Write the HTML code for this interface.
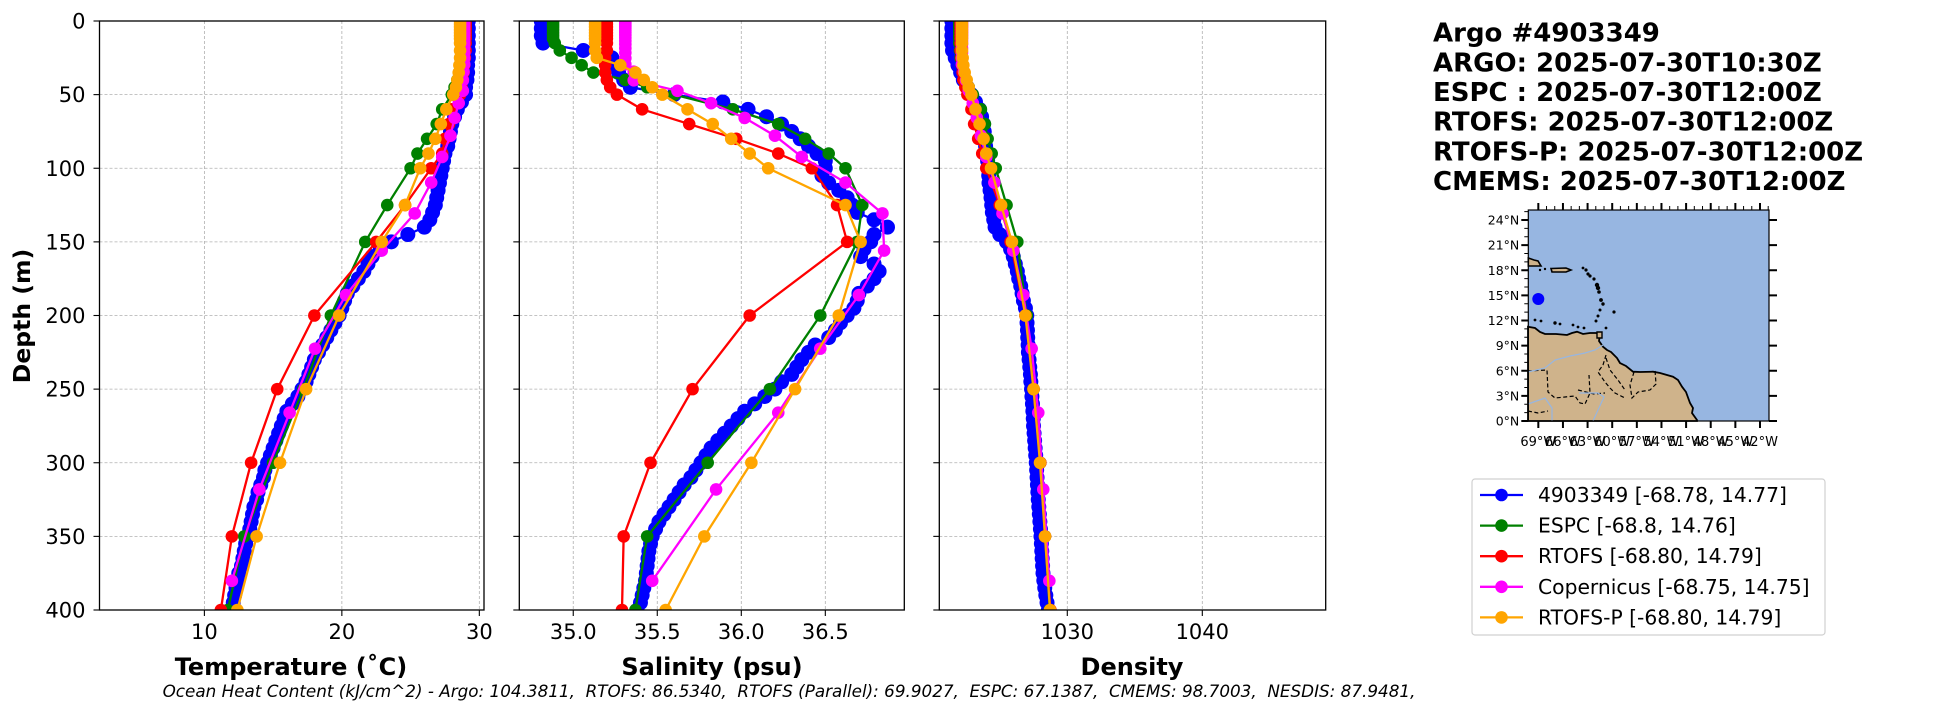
<!DOCTYPE html>
<html><head><meta charset="utf-8"><style>
body{margin:0;background:#fff;}
svg{display:block;font-family:"DejaVu Sans","Liberation Sans",sans-serif;}
</style></head><body>
<svg id="fig" xmlns="http://www.w3.org/2000/svg" width="1949" height="712" viewBox="0 0 1949 712">
<rect width="1949" height="712" fill="#fff"/>
<defs>
<clipPath id="c0"><rect x="99.5" y="21" width="384.5" height="589"/></clipPath>
<clipPath id="c1"><rect x="519.3" y="21" width="385" height="589"/></clipPath>
<clipPath id="c2"><rect x="939.3" y="21" width="386.4" height="589"/></clipPath>
</defs>
<g id="panels"></g>
<text transform="translate(30,316) rotate(-90)" text-anchor="middle" font-size="23.5" font-weight="bold">Depth (m)</text>
<text x="291" y="675" text-anchor="middle" font-size="24" font-weight="bold">Temperature (˚C)</text>
<text x="712" y="675" text-anchor="middle" font-size="24" font-weight="bold">Salinity (psu)</text>
<text x="1132" y="675" text-anchor="middle" font-size="24" font-weight="bold">Density</text>
<text x="789" y="697" text-anchor="middle" font-size="16.8" font-style="italic" xml:space="preserve" style="white-space:pre">Ocean Heat Content (kJ/cm^2) - Argo: 104.3811,  RTOFS: 86.5340,  RTOFS (Parallel): 69.9027,  ESPC: 67.1387,  CMEMS: 98.7003,  NESDIS: 87.9481,</text>
<g font-size="26" font-weight="bold">
<text x="1433" y="41.7">Argo #4903349</text>
<text x="1433" y="71.4">ARGO: 2025-07-30T10:30Z</text>
<text x="1433" y="101">ESPC : 2025-07-30T12:00Z</text>
<text x="1433" y="130.7">RTOFS: 2025-07-30T12:00Z</text>
<text x="1433" y="160.3">RTOFS-P: 2025-07-30T12:00Z</text>
<text x="1433" y="190">CMEMS: 2025-07-30T12:00Z</text>
</g>
<g id="map">
<rect x="1528.3" y="210" width="240.7" height="211" fill="#97b6e1"/>
<polygon fill="#cfb38b" stroke="#000" stroke-width="1.8" points="1528,326.7 1535,328 1540,332 1545,334 1556,334 1567,335 1572,333 1577,331.7 1583,334 1590,333 1596,333 1600,334 1599,341 1603,346.7 1607,350 1611,352 1617,358 1620,363 1626,366 1633,371.7 1640,372 1653,371.7 1660,373 1673,376.7 1678,380 1682,386.7 1686,392 1690,403 1693,408 1692,413 1697,420 1697,421 1528,421"/>
<polygon fill="#cfb38b" stroke="#000" stroke-width="1.4" points="1597,332 1602,332 1602,338 1597,338"/>
<polygon fill="#cfb38b" stroke="#000" stroke-width="1.6" points="1528.3,258 1534,260 1538,261 1541,266 1528.3,266"/>
<polygon fill="#cfb38b" stroke="#000" stroke-width="1.6" points="1551,268.5 1566,268 1571,270 1566,272 1552,272"/>
<g fill="#000">
<circle cx="1583" cy="268" r="1.4"/><circle cx="1586" cy="270" r="1.6"/><circle cx="1588" cy="274" r="1.6"/><circle cx="1590" cy="276" r="1.6"/><circle cx="1594" cy="279" r="1.6"/><circle cx="1597" cy="285" r="2.2"/><circle cx="1598" cy="288" r="2.2"/><circle cx="1599" cy="292" r="1.8"/><circle cx="1601" cy="300" r="1.9"/><circle cx="1603" cy="304" r="1.7"/><circle cx="1600" cy="310" r="1.5"/><circle cx="1598" cy="316" r="1.5"/><circle cx="1596" cy="321" r="1.5"/><circle cx="1614" cy="312" r="1.6"/><circle cx="1535" cy="320" r="1.4"/><circle cx="1541" cy="321" r="1.4"/><circle cx="1555" cy="323" r="1.7"/><circle cx="1560" cy="324" r="1.4"/><circle cx="1573" cy="325" r="1.4"/><circle cx="1578" cy="327" r="1.4"/><circle cx="1584" cy="328" r="1.4"/><circle cx="1606" cy="328" r="1.4"/><circle cx="1540" cy="270" r="1.2"/><circle cx="1545" cy="269" r="1.2"/>
</g>
<g fill="none" stroke="#000" stroke-width="1.2" stroke-dasharray="4,2.5">
<path d="M1528,371 L1547,370 L1548,392 L1555,398 L1565,397 L1575,396 L1580,403 L1585,404 L1590,393 L1589,375"/>
<path d="M1606,355 L1603,365 L1598,372 L1605,382 L1610,388 L1615,393 L1625,398"/>
<path d="M1634,372 L1630,385 L1632,398 L1638,392 L1650,390 L1656,384 L1655,370"/>
<path d="M1606,358 L1610,370 L1618,380 L1625,390"/>
<path d="M1528,411 L1538,413 L1548,411"/>
<path d="M1578,390 L1594,394 L1605,393"/>
</g>
<g fill="none" stroke="#97b6e1" stroke-width="1.2">
<path d="M1528,372 L1545,368 L1555,360 L1570,356 L1585,353 L1595,350 L1603,345"/>
<path d="M1528,404 L1545,398 L1552,408 L1552,421"/>
<path d="M1579,393 L1590,393 L1598,393 L1604,397 L1598,410 L1593,421"/>
</g>
<rect x="1528.3" y="210" width="240.7" height="211" fill="none" stroke="#000" stroke-width="1.2"/>
<circle cx="1538.3" cy="299" r="6" fill="#0000ff"/>
<g id="mapticks"></g>
</g>
<g id="legend"></g>
</svg>
<script>
// ---- data ----
const depthTicks = [0,50,100,150,200,250,300,350,400];
const tempTicks = [10,20,30];
const salTicks = [35.0,35.5,36.0,36.5];
const densTicks = [1030,1040];
const salTickLabels = ["35.0","35.5","36.0","36.5"];

const argoDepth = [0,5,10,15,20,25,30,35,40,45,50,55,60,65,70,75,80,85,90,95,100,105,110,115,120,125,130,135,140,145,150,155,160,165,170,175,180,185,190,195,200,205,210,215,220,225,230,235,240,245,250,255,260,265,270,275,280,285,290,295,300,305,310,315,320,325,330,335,340,345,350,355,360,365,370,375,380,385,390,395,400];
const argoTemp = [29.2,29.2,29.2,29.2,29.2,29.2,29.15,29.15,29.1,29.0,29.0,28.7,28.4,28.2,28.0,27.9,27.8,27.7,27.5,27.4,27.3,27.2,27.1,27.0,26.9,26.8,26.6,26.4,26.0,24.8,23.6,22.8,22.2,21.9,21.6,21.2,20.8,20.4,20.2,20.0,19.8,19.5,19.2,18.9,18.6,18.3,18.0,17.8,17.6,17.4,17.1,16.8,16.4,16.0,15.8,15.6,15.4,15.2,15.0,14.8,14.6,14.4,14.3,14.1,13.9,13.8,13.6,13.5,13.4,13.3,13.2,13.0,12.9,12.8,12.7,12.5,12.4,12.3,12.2,12.1,12.0];
const argoSal = [34.81,34.81,34.81,34.82,35.06,35.23,35.25,35.27,35.30,35.34,35.60,35.89,36.04,36.15,36.24,36.30,36.35,36.40,36.45,36.50,36.50,36.48,36.52,36.58,36.63,36.66,36.69,36.79,36.87,36.79,36.77,36.73,36.71,36.79,36.82,36.79,36.75,36.70,36.69,36.67,36.63,36.59,36.56,36.52,36.44,36.40,36.36,36.33,36.30,36.24,36.20,36.14,36.08,36.02,35.98,35.94,35.90,35.86,35.82,35.79,35.76,35.73,35.70,35.66,35.63,35.60,35.57,35.54,35.51,35.49,35.47,35.46,35.45,35.445,35.44,35.435,35.43,35.42,35.41,35.40,35.38];
const argoDens = [1021.45,1021.45,1021.45,1021.45,1021.5,1021.7,1021.9,1022.1,1022.3,1022.6,1022.9,1023.2,1023.5,1023.65,1023.8,1023.85,1023.9,1023.95,1024.0,1024.1,1024.15,1024.18,1024.2,1024.28,1024.35,1024.4,1024.45,1024.55,1024.65,1025.0,1025.5,1025.8,1026.0,1026.15,1026.3,1026.4,1026.55,1026.65,1026.75,1026.9,1027.0,1027.02,1027.05,1027.07,1027.1,1027.12,1027.17,1027.22,1027.27,1027.3,1027.35,1027.38,1027.42,1027.45,1027.48,1027.5,1027.54,1027.58,1027.62,1027.66,1027.7,1027.73,1027.76,1027.79,1027.82,1027.85,1027.89,1027.93,1027.97,1028.01,1028.05,1028.08,1028.11,1028.14,1028.17,1028.2,1028.26,1028.33,1028.41,1028.5,1028.6];

const modelDepth = [0,2,4,6,8,10,12,15,20,25,30,35,40,45,50,60,70,80,90,100,125,150,200,250,300,350,400];
const espcTemp = [29.0,29.0,29.0,29.0,29.0,29.0,29.0,29.0,28.9,28.8,28.7,28.6,28.4,28.2,28.0,27.3,26.9,26.2,25.5,25.0,23.3,21.7,19.2,17.2,15.0,12.9,11.7];
const espcSal = [34.88,34.88,34.88,34.88,34.88,34.88,34.88,34.89,34.92,34.99,35.05,35.12,35.31,35.44,35.60,35.95,36.22,36.38,36.52,36.62,36.72,36.69,36.47,36.17,35.80,35.44,35.37];
const espcDens = [1022.0,1022.0,1022.0,1022.0,1022.0,1022.0,1022.0,1022.0,1022.05,1022.1,1022.2,1022.3,1022.5,1022.7,1023.0,1023.6,1023.9,1024.1,1024.4,1024.7,1025.5,1026.3,1027.0,1027.5,1028.0,1028.35,1028.7];
const rtofsTemp = [29.0,29.0,29.0,29.0,29.0,29.0,29.0,29.0,29.0,28.95,28.9,28.85,28.8,28.7,28.6,28.0,27.8,27.5,27.3,26.5,24.6,22.5,18.0,15.3,13.4,12.0,11.2];
const rtofsSal = [35.20,35.20,35.20,35.20,35.20,35.20,35.20,35.20,35.20,35.19,35.19,35.19,35.20,35.22,35.26,35.41,35.69,35.97,36.22,36.42,36.57,36.63,36.05,35.71,35.46,35.30,35.29];
const rtofsDens = [1022.1,1022.1,1022.1,1022.1,1022.1,1022.1,1022.1,1022.1,1022.1,1022.15,1022.2,1022.25,1022.3,1022.45,1022.6,1022.9,1023.1,1023.4,1023.7,1024.0,1025.0,1025.8,1026.9,1027.5,1028.0,1028.35,1028.75];
const rtofspTemp = [28.6,28.6,28.6,28.6,28.6,28.6,28.6,28.6,28.6,28.6,28.55,28.5,28.4,28.3,28.1,27.6,27.2,26.8,26.3,25.7,24.6,22.9,19.8,17.4,15.5,13.8,12.4];
const rtofspSal = [35.13,35.13,35.13,35.13,35.13,35.13,35.13,35.13,35.13,35.14,35.28,35.37,35.42,35.47,35.53,35.68,35.83,35.94,36.05,36.16,36.62,36.71,36.58,36.32,36.06,35.78,35.55];
const rtofspDens = [1022.2,1022.2,1022.2,1022.2,1022.2,1022.2,1022.2,1022.2,1022.2,1022.25,1022.3,1022.4,1022.55,1022.7,1022.9,1023.2,1023.5,1023.8,1024.0,1024.35,1025.1,1025.9,1026.9,1027.5,1027.98,1028.35,1028.72];

const copDepth = [0.5,1.5,2.6,3.8,5,6.4,7.9,9.6,11.4,13.5,15.8,18.5,21.6,25.2,29.4,34.4,40.3,47.4,55.8,65.8,77.9,92.3,109.7,130.7,155.9,186.1,222.5,266,318.1,380.2];
const copTemp = [28.9,28.9,28.9,28.9,28.9,28.9,28.9,28.9,28.9,28.9,28.9,28.9,28.9,28.9,28.9,28.85,28.8,28.8,28.5,28.2,27.9,27.3,26.5,25.3,22.9,20.3,18.05,16.2,14.0,12.0];
const copSal = [35.31,35.31,35.31,35.31,35.31,35.31,35.31,35.31,35.31,35.31,35.31,35.31,35.31,35.31,35.31,35.36,35.36,35.62,35.82,36.02,36.20,36.36,36.62,36.84,36.85,36.70,36.47,36.22,35.85,35.47];
const copDens = [1022.2,1022.2,1022.2,1022.2,1022.2,1022.2,1022.2,1022.2,1022.2,1022.2,1022.2,1022.2,1022.2,1022.2,1022.2,1022.35,1022.5,1022.7,1023.0,1023.3,1023.6,1024.0,1024.6,1025.2,1026.0,1026.74,1027.36,1027.85,1028.22,1028.67];

const mapLatTicks = [0,3,6,9,12,15,18,21,24];
const mapLonTicks = [-69,-66,-63,-60,-57,-54,-51,-48,-45,-42];
const legendLabels = ["4903349 [-68.78, 14.77]","ESPC [-68.8, 14.76]","RTOFS [-68.80, 14.79]","Copernicus [-68.75, 14.75]","RTOFS-P [-68.80, 14.79]"];
const legendColors = ["#0000ff","#008000","#ff0000","#ff00ff","#ffa500"];

// ---- drawing ----
const NS="http://www.w3.org/2000/svg";
function mk(tag, attrs, parent){const e=document.createElementNS(NS,tag);for(const k in attrs)e.setAttribute(k,attrs[k]);if(parent)parent.appendChild(e);return e;}
const Y0=21, Y1=610;
function yScale(d){return Y0+(d/400)*(Y1-Y0);}
const panels=[
 {name:'temperature',x0:99.5,x1:484,min:2.37,max:30.34,ticks:tempTicks,labels:tempTicks.map(String),clip:'c0',ylabels:true,
  series:[[argoDepth,argoTemp],[modelDepth,espcTemp],[modelDepth,rtofsTemp],[copDepth,copTemp],[modelDepth,rtofspTemp]]},
 {name:'salinity',x0:519.3,x1:904.3,min:34.679,max:36.970,ticks:salTicks,labels:salTickLabels,clip:'c1',ylabels:false,
  series:[[argoDepth,argoSal],[modelDepth,espcSal],[modelDepth,rtofsSal],[copDepth,copSal],[modelDepth,rtofspSal]]},
 {name:'density',x0:939.3,x1:1325.7,min:1020.52,max:1049.14,ticks:densTicks,labels:densTicks.map(String),clip:'c2',ylabels:false,
  series:[[argoDepth,argoDens],[modelDepth,espcDens],[modelDepth,rtofsDens],[copDepth,copDens],[modelDepth,rtofspDens]]}
];
const seriesNames=['argo','espc','rtofs','copernicus','rtofs-p'];
const root=document.getElementById('panels');
panels.forEach(p=>{
  const g=mk('g',{},root);
  
  
  const xs=v=>p.x0+(v-p.min)/(p.max-p.min)*(p.x1-p.x0);
  p.ticks.forEach(t=>{const l=mk('line',{x1:xs(t),x2:xs(t),y1:Y0,y2:Y1,stroke:'#b0b0b0','stroke-width':0.8,'stroke-dasharray':'3,2'},g);
    
    });
  depthTicks.forEach(t=>{const l=mk('line',{x1:p.x0,x2:p.x1,y1:yScale(t),y2:yScale(t),stroke:'#b0b0b0','stroke-width':0.8,'stroke-dasharray':'3,2'},g);
    
    });
  const sg=mk('g',{'clip-path':'url(#'+p.clip+')'},g);
  p.series.forEach((s,i)=>{
    const [dep,val]=s; const n=Math.min(dep.length,val.length);
    let pts=[]; for(let k=0;k<n;k++)pts.push(xs(val[k]).toFixed(2)+','+yScale(dep[k]).toFixed(2));
    const pl=mk('polyline',{points:pts.join(' '),fill:'none',stroke:legendColors[i],'stroke-width':2.3},sg);
    
    
    for(let k=0;k<n;k++){const c=mk('circle',{cx:xs(val[k]),cy:yScale(dep[k]),r:i==0?7.5:6.3,fill:legendColors[i]},sg);
      
      }
  });
  const fr=mk('rect',{x:p.x0,y:Y0,width:p.x1-p.x0,height:Y1-Y0,fill:'none',stroke:'#000','stroke-width':1.3},g);
  
  
  p.ticks.forEach((t,i)=>{mk('line',{x1:xs(t),x2:xs(t),y1:Y1,y2:Y1+6,stroke:'#000','stroke-width':1.1},g);
    const tx=mk('text',{x:xs(t),y:639,'text-anchor':'middle','font-size':21},g);tx.textContent=p.labels[i];
    
    });
  depthTicks.forEach(t=>{mk('line',{x1:p.x0-6,x2:p.x0,y1:yScale(t),y2:yScale(t),stroke:'#000','stroke-width':1.1},g);
    if(p.ylabels){const tx=mk('text',{x:p.x0-14,y:yScale(t)+7.5,'text-anchor':'end','font-size':21},g);tx.textContent=String(t);
      
      }});
});
// map ticks
const mt=document.getElementById('mapticks');
const MX0=1528.3,MX1=1769,MY0=210,MY1=421;
const lonX=v=>MX0+(v+70.22)*8.21, latY=v=>MY1-v*(MY1-220)/24;
mapLatTicks.forEach(t=>{const y=latY(t);
  mk('line',{x1:MX0-7,x2:MX0,y1:y,y2:y,stroke:'#000','stroke-width':2},mt);
  mk('line',{x1:MX1,x2:MX1+8,y1:y,y2:y,stroke:'#000','stroke-width':2},mt);
  const tx=mk('text',{x:MX0-9,y:y+4.5,'text-anchor':'end','font-size':12.5},mt);tx.textContent=t+'°N';
  
  
  for(let k=1;k<3;k++){const yy=latY(t+k);if(t+k<=25){mk('line',{x1:MX0-4,x2:MX0,y1:yy,y2:yy,stroke:'#000','stroke-width':1},mt);}}
});
mapLonTicks.forEach(t=>{const x=lonX(t);
  mk('line',{x1:x,x2:x,y1:MY1,y2:MY1+7,stroke:'#000','stroke-width':2},mt);
  mk('line',{x1:x,x2:x,y1:MY0-7,y2:MY0,stroke:'#000','stroke-width':2},mt);
  const tx=mk('text',{x:x,y:446,'text-anchor':'middle','font-size':13},mt);tx.textContent=(-t)+'°W';
  
  
  for(let k=1;k<3;k++){const xx=lonX(t+k);if(xx<MX1){mk('line',{x1:xx,x2:xx,y1:MY0-4,y2:MY0,stroke:'#000','stroke-width':1},mt);}}
});
// legend
const lg=document.getElementById('legend');
mk('rect',{x:1472,y:479,width:353,height:156,rx:3,fill:'#fff',stroke:'#d0d0d0','stroke-width':1.2},lg);
legendLabels.forEach((lab,i)=>{const y=495+i*30.6;
  const e=mk('g',{},lg);
  
  
  mk('line',{x1:1480,x2:1523,y1:y,y2:y,stroke:legendColors[i],'stroke-width':2.3},e);
  mk('circle',{cx:1501.5,cy:y,r:6.3,fill:legendColors[i]},e);
  const tx=mk('text',{x:1538,y:y+7,'font-size':20.3},e);tx.textContent=lab;
});
</script>
</body></html>
